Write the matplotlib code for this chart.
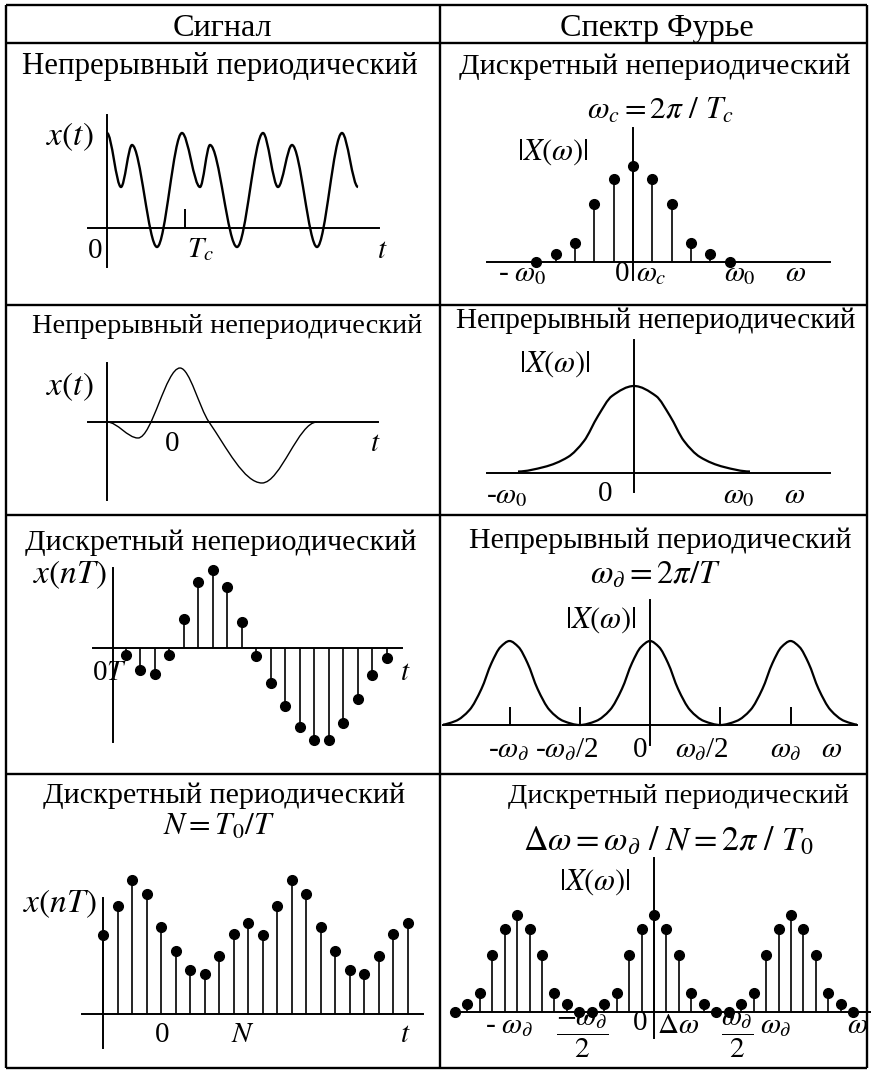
import matplotlib
matplotlib.use('Agg')
import matplotlib.pyplot as plt
import numpy as np
from matplotlib.patches import PathPatch
from matplotlib.path import Path

plt.rcParams['font.family'] = ['Liberation Serif', 'DejaVu Serif']
plt.rcParams['mathtext.fontset'] = 'stix'

W, H = 871, 1071

HEADERS = ['Сигнал', 'Спектр Фурье']
ROW_TITLES = [
    ('Непрерывный периодический', 'Дискретный непериодический'),
    ('Непрерывный непериодический', 'Непрерывный непериодический'),
    ('Дискретный непериодический', 'Непрерывный периодический'),
    ('Дискретный периодический', 'Дискретный периодический'),
]

# row 1, signal: extrema of a periodic x(t) (t, x)
sig1_t = [0, 14, 25, 50, 75, 93, 103, 130, 156, 171, 185, 210, 235, 251]
sig1_x = [95, 41, 83, -19, 95, 41, 83, -19, 95, 41, 83, -19, 95, 41]
sig1_tc = 78
# row 1, spectrum: lines at k * omega_c
spec1_k = [-5, -4, -3, -2, -1, 0, 1, 2, 3, 4, 5]
spec1_X = [0, 8, 19, 58, 83, 96, 83, 58, 19, 8, 0]

# row 2, signal: aperiodic pulse
sig2_t = [0, 31, 73, 102, 155, 210]
sig2_x = [0, -16, 54, 0, -61, 0]
# row 2, spectrum: bell
spec2_w = [-116, -90, -66, -50, -36, -22, 0, 22, 36, 50, 66, 90, 116]
spec2_X = [1.5, 6, 16, 32, 57, 77, 87, 77, 57, 32, 16, 6, 1.5]

# row 3, signal: samples x(nT)
sig3_n = list(range(1, 20))
sig3_x = [-7, -22, -26, -7, 29, 66, 78, 61, 26, -8, -35, -58, -79, -92, -92,
          -75, -51, -27, -10]
# row 3, spectrum: one bell (offset in omega_d) repeated at each centre
spec3_dw = [-0.5, -0.384, -0.285, -0.2, -0.128, -0.064, 0, 0.064, 0.128, 0.2,
            0.285, 0.384, 0.5]
spec3_X = [0, 4, 15, 36, 62, 78, 84, 78, 62, 36, 15, 4, 0]
spec3_centers = [-1, 0, 1]
spec3_ticks = [-1, -0.5, 0.5, 1]

# row 4, signal: periodic samples, N = 11
sig4_n = list(range(0, 22))
sig4_x = [79, 108, 134, 120, 87, 63, 44, 40, 58, 80, 91,
          79, 108, 134, 120, 87, 63, 44, 40, 58, 80, 91]
# row 4, spectrum: lines at k * delta omega
spec4_k = list(range(-16, 17))
spec4_X = [0, 8, 19, 57, 83, 97, 83, 57, 19, 8, 0,
           0, 8, 19, 57, 83, 97, 83, 57, 19, 8, 0,
           0, 8, 19, 57, 83, 97, 83, 57, 19, 8, 0]

LBL1_SIG = [r'$x(t)$', '0', r'$T_c$', r'$t$']
LBL1_SPEC = [r'$|X(\omega)|$', r'- $\omega_0$', '0', r'$\omega_c$',
             r'$\omega_0$', r'$\omega$']
LBL2_SIG = [r'$x(t)$', '0', r'$t$']
LBL2_SPEC = [r'$|X(\omega)|$', r'-$\omega_0$', '0', r'$\omega_0$', r'$\omega$']
LBL3_SIG = [r'$x(nT)$', r'0$T$', r'$t$']
LBL3_SPEC = [r'$|X(\omega)|$', r'-$\omega_\partial$', r'-$\omega_\partial$/2', '0',
             r'$\omega_\partial$/2', r'$\omega_\partial$', r'$\omega$']
LBL4_SIG = [r'$x(nT)$', '0', r'$N$', r'$t$']
LBL4_SPEC = [r'$|X(\omega)|$', r'- $\omega_\partial$', r'$\dfrac{-\omega_\partial}{2}$',
             '0', r'$\Delta\omega$', r'$\dfrac{\omega_\partial}{2}$',
             r'$\omega_\partial$', r'$\omega$']
FORMULAS = [r'$\omega_c = 2\pi\ /\ T_c$', r'$\omega_\partial = 2\pi/T$',
            r'$N=T_0/T$', r'$\Delta\omega = \omega_\partial\ /\ N = 2\pi\ /\ T_0$']

HEAD_FS = 23.2
TITLE_FS = [(22.2, 21.7), (20.4, 21.0), (21.7, 21.6), (21.7, 20.4)]
FORM_FS = [22.5, 23.5, 22.5, 24.5]
YLAB_FS = 24
ABS_FS = 22
TICK_FS = 21
LW_AX = 1.4

fig = plt.figure(figsize=(W / 100, H / 100), dpi=100)
bg = fig.add_axes([0, 0, 1, 1])
bg.set_xlim(0, W)
bg.set_ylim(H, 0)
bg.axis('off')

# table grid
rows_y = [5, 43, 305, 515, 774, 1068]
cols_x = [6, 440, 867]
bg.hlines(rows_y, cols_x[0], cols_x[-1], color='k', lw=1.7)
bg.vlines(cols_x, rows_y[0], rows_y[-1], color='k', lw=1.7)


def txt(s, x, y, size=TICK_FS, **kw):
    bg.text(x, y, s, fontsize=size, ha='center', va='baseline', **kw)


def panel(box, origin, scale, hx, vy, vx=None):
    # box/origin/hx/vy in picture pixels; data units = pixels / scale
    x0, y0, x1, y1 = box
    ox, oy = origin
    sx, sy = scale
    ax = fig.add_axes([x0 / W, 1 - y1 / H, (x1 - x0) / W, (y1 - y0) / H])
    ax.set_xlim((x0 - ox) / sx, (x1 - ox) / sx)
    ax.set_ylim((oy - y1) / sy, (oy - y0) / sy)
    ax.patch.set_visible(False)
    for s in ('top', 'right'):
        ax.spines[s].set_visible(False)
    vx = ox if vx is None else vx
    ax.spines['left'].set_position(('data', (vx - ox) / sx))
    ax.spines['bottom'].set_position(('data', 0))
    ax.spines['left'].set_bounds((oy - vy[1]) / sy, (oy - vy[0]) / sy)
    ax.spines['bottom'].set_bounds((hx[0] - ox) / sx, (hx[1] - ox) / sx)
    for s in ('left', 'bottom'):
        ax.spines[s].set_linewidth(LW_AX)
    ax.set_xticks([])
    ax.set_yticks([])
    return ax


def smooth(ax, x, y, lw=1.6):
    # monotone cubic through the read points, drawn as bezier path
    x = np.asarray(x, float)
    y = np.asarray(y, float)
    h = np.diff(x)
    d = np.diff(y) / h
    m = np.zeros_like(x)
    for i in range(1, len(x) - 1):
        if d[i - 1] * d[i] > 0:
            w1 = 2 * h[i] + h[i - 1]
            w2 = h[i] + 2 * h[i - 1]
            m[i] = (w1 + w2) / (w1 / d[i - 1] + w2 / d[i])
    verts = [(x[0], y[0])]
    codes = [Path.MOVETO]
    for i in range(len(x) - 1):
        verts += [(x[i] + h[i] / 3, y[i] + m[i] * h[i] / 3),
                  (x[i + 1] - h[i] / 3, y[i + 1] - m[i + 1] * h[i] / 3),
                  (x[i + 1], y[i + 1])]
        codes += [Path.CURVE4] * 3
    ax.add_patch(PathPatch(Path(verts, codes), fill=False, lw=lw, color='k'))


def stems(ax, x, y):
    ml, sl, bl = ax.stem(x, y, linefmt='k-', markerfmt='ko', basefmt=' ')
    sl.set_linewidth(1.2)
    ml.set_markersize(7)
    ml.set_clip_on(False)


# headers and row titles
txt(HEADERS[0], 222, 36, HEAD_FS)
txt(HEADERS[1], 657, 36, HEAD_FS)
title_pos = [((220, 74), (655, 74)), ((227, 333), (656, 328)),
             ((221, 550), (660, 548)), ((224, 803), (678, 803))]
for (l, r), ((lx, ly), (rx, ry)), (lf, rf) in zip(ROW_TITLES, title_pos, TITLE_FS):
    txt(l, lx, ly, lf)
    txt(r, rx, ry, rf)
for s, x, y, fs in zip(FORMULAS, [660, 655, 219, 668], [119, 583, 835, 850], FORM_FS):
    txt(s, x, y, fs)

# ---- row 1
ax = panel((6, 43, 440, 305), (107, 228), (1, 1), (88, 379), (115, 267))
smooth(ax, sig1_t, sig1_x, lw=1.7)
ax.set_xticks([sig1_tc])
ax.tick_params(axis='x', direction='in', length=14, width=LW_AX, labelbottom=False)
txt(LBL1_SIG[0], 70, 145, YLAB_FS)
for s, x, y in zip(LBL1_SIG[1:], [95, 200, 382], [258, 257, 258]):
    txt(s, x, y)

ax = panel((440, 43, 867, 305), (633, 262), (19.33, 1), (487, 830), (128, 280))
stems(ax, spec1_k, spec1_X)
txt(LBL1_SPEC[0], 553, 160, ABS_FS)
for s, x in zip(LBL1_SPEC[1:], [522, 622, 651, 740, 796]):
    txt(s, x, 281)

# ---- row 2
ax = panel((6, 305, 440, 515), (107, 422), (1, 1), (88, 378), (363, 500))
smooth(ax, sig2_t, sig2_x, lw=1.0)
txt(LBL2_SIG[0], 70, 395, YLAB_FS)
for s, x in zip(LBL2_SIG[1:], [172, 375]):
    txt(s, x, 451)

ax = panel((440, 305, 867, 515), (634, 473), (1, 1), (487, 830), (340, 492))
smooth(ax, spec2_w, spec2_X, lw=1.6)
txt(LBL2_SPEC[0], 555, 372, ABS_FS)
for s, x, y in zip(LBL2_SPEC[1:], [507, 605, 739, 795], [503, 501, 503, 503]):
    txt(s, x, y)

# ---- row 3
ax = panel((6, 515, 440, 774), (111, 648), (14.5, 1), (93, 402), (568, 742), vx=113)
stems(ax, sig3_n, sig3_x)
txt(LBL3_SIG[0], 70, 583, YLAB_FS)
for s, x in zip(LBL3_SIG[1:], [109, 405]):
    txt(s, x, 680)

ax = panel((443, 515, 857, 774), (650, 725), (140.5, 1), (443, 857), (600, 745))
for c in spec3_centers:
    smooth(ax, [c + d for d in spec3_dw], spec3_X, lw=1.6)
ax.set_xticks(spec3_ticks)
ax.tick_params(axis='x', direction='in', length=13, width=LW_AX, labelbottom=False)
txt(LBL3_SPEC[0], 601, 628, ABS_FS)
for s, x in zip(LBL3_SPEC[1:], [509, 567, 640, 702, 786, 832]):
    txt(s, x, 757)

# ---- row 4
ax = panel((6, 774, 440, 1068), (103, 1014), (14.52, 1), (82, 423), (898, 1048))
stems(ax, sig4_n, sig4_x)
txt(LBL4_SIG[0], 60, 912, YLAB_FS)
for s, x in zip(LBL4_SIG[1:], [162, 243, 405]):
    txt(s, x, 1042)

ax = panel((440, 774, 871, 1068), (654, 1012), (12.45, 1), (455, 871), (858, 1038))
stems(ax, spec4_k, spec4_X)
txt(LBL4_SPEC[0], 595, 890, ABS_FS)
for s, x, y in zip(LBL4_SPEC[1:], [509, 582, 640, 678, 737, 776, 858],
                   [1033, 1040, 1030, 1033, 1040, 1033, 1033]):
    txt(s, x, y)

fig.savefig('out.png', dpi=100)
